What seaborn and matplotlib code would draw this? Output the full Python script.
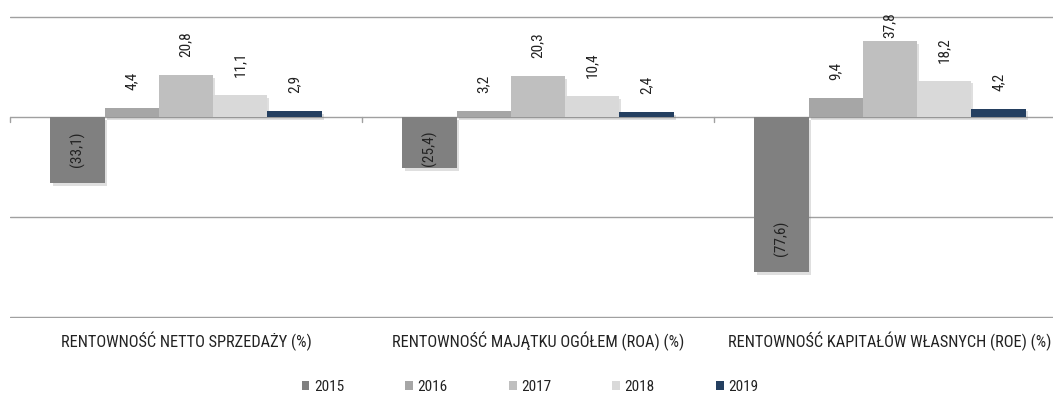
import matplotlib
matplotlib.use("Agg")
import matplotlib.pyplot as plt
import matplotlib.patheffects as pe
from matplotlib.patches import Patch
from matplotlib import font_manager as fm
import seaborn as sns
import pandas as pd

# Profitability ratios (%) by year
categories = [
    "RENTOWNOŚĆ NETTO SPRZEDAŻY (%)",
    "RENTOWNOŚĆ MAJĄTKU OGÓŁEM (ROA) (%)",
    "RENTOWNOŚĆ KAPITAŁÓW WŁASNYCH (ROE) (%)",
]
years = ["2015", "2016", "2017", "2018", "2019"]
values_2015 = [-33.1, -25.4, -77.6]
values_2016 = [4.4, 3.2, 9.4]
values_2017 = [20.8, 20.3, 37.8]
values_2018 = [11.1, 10.4, 18.2]
values_2019 = [2.9, 2.4, 4.2]
colors = ["#808080", "#a6a6a6", "#bfbfbf", "#d9d9d9", "#243f60"]

series = [values_2015, values_2016, values_2017, values_2018, values_2019]
df = pd.DataFrame(
    [(c, y, v) for y, vals in zip(years, series) for c, v in zip(categories, vals)],
    columns=["kategoria", "rok", "wartosc"],
)

sns.set_theme(style="white")

# prefer a narrow sans face
available = {f.name for f in fm.fontManager.ttflist}
preferred = ["Liberation Sans Narrow", "Arial Narrow", "Roboto Condensed",
             "PT Sans Narrow", "Archivo Narrow", "Open Sans Condensed", "Liberation Sans"]
family = next((f for f in preferred if f in available), "DejaVu Sans")
plt.rcParams["font.family"] = [family, "DejaVu Sans"]

fig = plt.figure(figsize=(10.53, 3.95), dpi=100)
ax = fig.add_axes([10 / 1053, 77 / 395, 1056 / 1053, 302 / 395])

sns.barplot(
    data=df, x="kategoria", y="wartosc", hue="rok",
    order=categories, hue_order=years, palette=colors,
    width=0.77, dodge=True, saturation=1, errorbar=None,
    linewidth=0, ax=ax, legend=False, zorder=3,
)

shadow = [pe.SimplePatchShadow(offset=(1.5, -2), shadow_rgbFace="#808080", alpha=0.25), pe.Normal()]
for p in ax.patches:
    p.set_path_effects(shadow)

ax.set_ylim(-100.5, 50.5)
ax.set_xlim(-0.5, len(categories) - 0.5)
ax.set_yticks([-100, -50, 0, 50])
ax.tick_params(axis="y", length=0, labelleft=False)
ax.grid(axis="y", color="#a0a0a0", linewidth=1, zorder=0)
ax.grid(axis="x", visible=False)
ax.set_axisbelow(True)
for s in ax.spines.values():
    s.set_visible(False)

# category boundary ticks on the zero line
for b in range(len(categories)):
    ax.plot([b - 0.5, b - 0.5], [0, -2.5], color="#a0a0a0", linewidth=1, clip_on=False)

ax.set_xlabel("")
ax.set_ylabel("")
ax.tick_params(axis="x", length=0, pad=10, labelsize=11.8, colors="#222222")


def fmt(v):
    s = f"{abs(v):.1f}".replace(".", ",")
    return f"({s})" if v < 0 else s


# value labels, read from the same series arrays
bars = ax.patches
for yi, vals in enumerate(series):
    for ci, v in enumerate(vals):
        p = bars[yi * len(categories) + ci]
        xc = p.get_x() + p.get_width() / 2
        kw = dict(rotation=90, ha="center", fontsize=11, color="#222222", annotation_clip=False)
        if v < 0:
            # inside the bar, near its end, kept clear of the zero line
            ax.annotate(fmt(v), xy=(xc, min(v + 8, -24.5)), va="bottom", **kw)
        elif v + 9 + 13 > 52:
            ax.annotate(fmt(v), xy=(xc, 52.5), va="top", **kw)
        else:
            ax.annotate(fmt(v), xy=(xc, v), xytext=(0, 13), textcoords="offset points",
                        va="bottom", **kw)

handles = [Patch(facecolor=c, edgecolor="none") for c in colors]
fig.legend(handles, years, loc="center", bbox_to_anchor=(530 / 1053, 1 - 387 / 395),
           ncol=5, frameon=False, fontsize=11, handlelength=0.5, handleheight=0.5,
           handletextpad=0.3, columnspacing=4.0, labelcolor="#222222")

fig.savefig("out.png", dpi=100)
